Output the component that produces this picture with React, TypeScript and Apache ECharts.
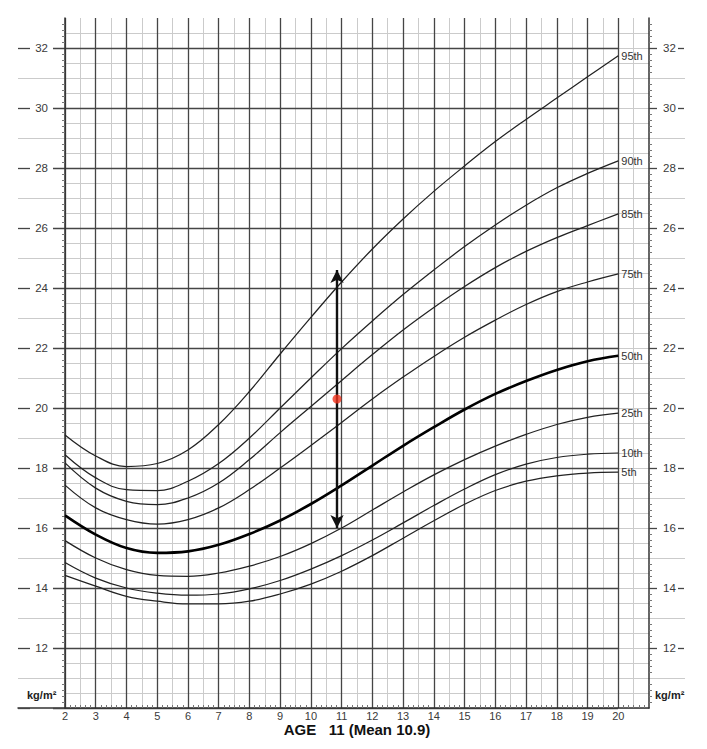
import React, { useEffect, useRef } from "react";
import * as echarts from "echarts";

// ---------- data ----------
const ages = [2, 3, 4, 5, 6, 7, 8, 9, 10, 11, 12, 13, 14, 15, 16, 17, 18, 19, 20];
const p95 = [19.1, 18.4, 18.05, 18.15, 18.6, 19.45, 20.55, 21.8, 23.02, 24.2, 25.3, 26.3, 27.22, 28.07, 28.88, 29.62, 30.33, 31.04, 31.74];
const p90 = [18.44, 17.67, 17.28, 17.25, 17.56, 18.15, 19.0, 20.0, 21.0, 21.98, 22.9, 23.78, 24.6, 25.38, 26.1, 26.76, 27.34, 27.82, 28.24];
const p85 = [18.17, 17.33, 16.89, 16.78, 17.0, 17.5, 18.28, 19.18, 20.05, 20.92, 21.78, 22.6, 23.35, 24.05, 24.68, 25.22, 25.68, 26.08, 26.47];
const p75 = [17.43, 16.67, 16.28, 16.13, 16.28, 16.67, 17.28, 18.0, 18.75, 19.52, 20.3, 21.03, 21.72, 22.36, 22.93, 23.45, 23.88, 24.2, 24.47];
const p50 = [16.42, 15.78, 15.33, 15.17, 15.22, 15.44, 15.8, 16.25, 16.8, 17.42, 18.08, 18.74, 19.36, 19.95, 20.47, 20.9, 21.27, 21.56, 21.74];
const p25 = [15.58, 15.0, 14.61, 14.42, 14.39, 14.5, 14.73, 15.05, 15.48, 16.0, 16.6, 17.2, 17.77, 18.28, 18.73, 19.12, 19.45, 19.69, 19.83];
const p10 = [14.85, 14.33, 14.0, 13.83, 13.76, 13.8, 13.97, 14.25, 14.63, 15.08, 15.6, 16.17, 16.75, 17.3, 17.78, 18.13, 18.35, 18.46, 18.5];
const p5 = [14.42, 14.06, 13.72, 13.56, 13.47, 13.47, 13.56, 13.8, 14.13, 14.56, 15.08, 15.66, 16.24, 16.79, 17.25, 17.56, 17.74, 17.83, 17.86];

const percentileNames = ["95th", "90th", "85th", "75th", "50th", "25th", "10th", "5th"];
const percentileValues = [p95, p90, p85, p75, p50, p25, p10, p5];

const markerAge = 10.85;
const markerBmi = 20.3;
const rangeLow = 16.0;
const rangeHigh = 24.6;

const xTickLabels = [2, 3, 4, 5, 6, 7, 8, 9, 10, 11, 12, 13, 14, 15, 16, 17, 18, 19, 20];
const yTickLabels = [12, 14, 16, 18, 20, 22, 24, 26, 28, 30, 32];
const evenLines = [12, 14, 16, 18, 20, 22, 24, 26, 28, 30, 32];
const axisTitle = "AGE   11 (Mean 10.9)";
const unitLabel = "kg/m²";

// ---------- styling ----------
const FONT = "'Liberation Sans', Arial, Helvetica, sans-serif";
const DARK = "#454545";
const LIGHT = "#cbcbcb";
const CLEAR = "rgba(0,0,0,0)";
const TOP = 18;
const PH = 690;
const X_MIN = 2;
const X_MAX = 21;
const Y_MIN = 10;
const Y_MAX = 33;

function grid(left: number, width: number) {
  return { left, top: TOP, width, height: PH, containLabel: false };
}

function hiddenX(gridIndex: number) {
  return { type: "value", gridIndex, min: 0, max: 1, show: false };
}

function lineYAxis(gridIndex: number, interval: number, colors: string[], opts: any = {}) {
  return {
    type: "value",
    gridIndex,
    min: Y_MIN,
    max: Y_MAX,
    interval,
    axisLine: { show: false },
    axisTick: { show: false },
    axisLabel: { show: false },
    splitLine: {
      show: true,
      showMaxLine: false,
      lineStyle: { color: colors, width: opts.width ?? 1 },
      ...(opts.split || {}),
    },
    z: opts.z ?? 0,
  };
}

export default function App() {
  const ref = useRef<HTMLDivElement>(null);

  useEffect(() => {
    if (!ref.current) return;
    const chart = echarts.init(ref.current, null, { renderer: "svg" });

    const curveSeries = percentileNames.map((name, i) => {
      const is50 = name === "50th";
      return {
        name,
        type: "line",
        xAxisIndex: 1,
        yAxisIndex: 1,
        data: ages.map((a, k) => [a, percentileValues[i][k]]),
        smooth: 0.4,
        symbol: "none",
        silent: true,
        z: is50 ? 4 : 3,
        lineStyle: { color: is50 ? "#000" : "#222", width: is50 ? 2.6 : 1.25 },
        endLabel: {
          show: true,
          formatter: "{a}",
          distance: 3,
          fontFamily: FONT,
          fontSize: 11,
          color: "#333",
        },
        emphasis: { disabled: true },
      };
    });

    const option: any = {
      animation: false,
      backgroundColor: "#ffffff",
      textStyle: { fontFamily: FONT },
      grid: [
        grid(65, 584), // 0 light grid
        grid(65, 584), // 1 dark verticals, axes, series
        grid(53, 565), // 2 even horizontal lines
        grid(18, 12), // 3 left dashes
        grid(678, 6), // 4 right dashes
        grid(18, 47), // 5 left odd-line extensions + bottom line
        grid(649, 36), // 6 right odd-line extensions
      ],
      xAxis: [
        {
          type: "value",
          gridIndex: 0,
          min: X_MIN,
          max: X_MAX,
          interval: 0.5,
          axisLine: { show: false },
          axisTick: { show: false },
          axisLabel: { show: false },
          splitLine: { show: true, showMaxLine: false, lineStyle: { color: LIGHT, width: 1 } },
          z: 0,
        },
        {
          type: "value",
          gridIndex: 1,
          min: X_MIN,
          max: X_MAX,
          interval: 1,
          axisLine: { show: true, onZero: false, lineStyle: { color: "#333", width: 1.5 } },
          axisTick: { show: false, inside: true },
          minorTick: { show: true, splitNumber: 6, length: 3, lineStyle: { color: "#777", width: 1 } },
          axisLabel: {
            show: true,
            customValues: xTickLabels,
            margin: 2.5,
            fontSize: 11,
            lineHeight: 11,
            color: "#3a3a3a",
            fontFamily: FONT,
          },
          splitLine: { show: true, showMaxLine: false, lineStyle: { color: DARK, width: 1.3 } },
          name: axisTitle,
          nameLocation: "middle",
          nameGap: 13.5,
          nameMoveOverlap: false,
          nameTextStyle: {
            fontSize: 15,
            lineHeight: 15,
            fontWeight: "bold",
            color: "#111",
            fontFamily: FONT,
          },
          z: 1,
        },
        hiddenX(2),
        hiddenX(3),
        hiddenX(4),
        {
          type: "value",
          gridIndex: 5,
          min: 0,
          max: 1,
          axisLine: { show: true, onZero: false, lineStyle: { color: "#333", width: 1.5 } },
          axisTick: { show: false },
          axisLabel: { show: false },
          splitLine: { show: false },
        },
        hiddenX(6),
      ],
      yAxis: [
        lineYAxis(0, 0.5, [LIGHT]),
        {
          type: "value",
          gridIndex: 1,
          position: "left",
          min: Y_MIN,
          max: Y_MAX,
          interval: 1,
          axisLine: { show: true, onZero: false, lineStyle: { color: "#333", width: 1.5 } },
          axisTick: { show: false, inside: false },
          minorTick: { show: true, splitNumber: 5, length: 3, lineStyle: { color: "#777", width: 1 } },
          axisLabel: {
            show: true,
            customValues: yTickLabels,
            margin: 17,
            fontSize: 11.5,
            color: "#3a3a3a",
            fontFamily: FONT,
          },
          splitLine: { show: false },
          z: 1,
        },
        {
          type: "value",
          gridIndex: 1,
          position: "right",
          min: Y_MIN,
          max: Y_MAX,
          interval: 1,
          axisLine: { show: true, onZero: false, lineStyle: { color: "#333", width: 1.5 } },
          axisTick: {
            show: true,
            inside: false,
            customValues: evenLines,
            length: 8,
            lineStyle: { color: DARK, width: 1.3 },
          },
          minorTick: { show: true, splitNumber: 5, length: 3, lineStyle: { color: "#777", width: 1 } },
          axisLabel: {
            show: true,
            customValues: yTickLabels,
            margin: 14,
            fontSize: 11.5,
            color: "#3a3a3a",
            fontFamily: FONT,
          },
          splitLine: { show: false },
          z: 1,
        },
        lineYAxis(2, 2, [DARK], { width: 1.3, z: 1 }),
        lineYAxis(3, 2, [DARK], { width: 1.3, z: 1 }),
        lineYAxis(4, 2, [DARK], { width: 1.3, z: 1, split: { showMinLine: false } }),
        lineYAxis(5, 1, [CLEAR, LIGHT]),
        lineYAxis(6, 1, [CLEAR, LIGHT]),
      ],
      graphic: [
        {
          type: "text",
          left: 27,
          top: 689,
          silent: true,
          style: { text: unitLabel, font: `bold 11px ${FONT}`, fill: "#222" },
        },
        {
          type: "text",
          left: 655,
          top: 689,
          silent: true,
          style: { text: unitLabel, font: `bold 11px ${FONT}`, fill: "#222" },
        },
      ],
      series: [
        ...curveSeries,
        {
          name: "marker",
          type: "scatter",
          xAxisIndex: 1,
          yAxisIndex: 1,
          data: [[markerAge, markerBmi]],
          symbol: "circle",
          symbolSize: 9,
          z: 10,
          silent: true,
          itemStyle: { color: "#f2331d" },
          emphasis: { disabled: true },
          markLine: {
            silent: true,
            symbol: ["arrow", "arrow"],
            symbolSize: [10, 13],
            label: { show: false },
            lineStyle: { color: "#111", width: 2.4, type: "solid" },
            emphasis: { disabled: true },
            data: [[{ coord: [markerAge, rangeLow] }, { coord: [markerAge, rangeHigh] }]],
          },
        },
      ],
    };

    chart.setOption(option);
    return () => chart.dispose();
  }, []);

  return (
    <div
      ref={ref}
      style={{ position: "fixed", left: 0, top: 0, width: 707, height: 749, background: "#fff" }}
    />
  );
}
